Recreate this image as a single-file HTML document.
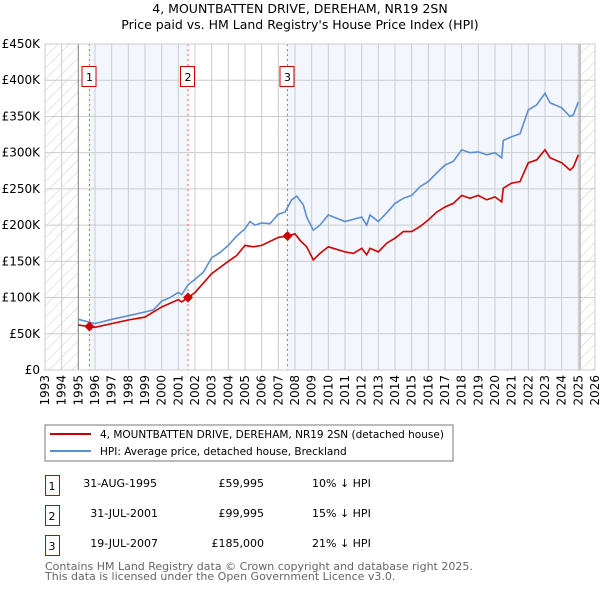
<!DOCTYPE html>
<html><head><meta charset="utf-8"><style>
body{margin:0;background:#fff;font-family:"DejaVu Sans","Liberation Sans",sans-serif;}
svg text{font-family:"DejaVu Sans","Liberation Sans",sans-serif;}
</style></head><body>
<svg id="c" width="600" height="590" xmlns="http://www.w3.org/2000/svg">
<defs><pattern id="h" width="8" height="8" patternUnits="userSpaceOnUse" patternTransform="rotate(45)"><line x1="0" y1="0" x2="0" y2="8" stroke="#ccc" stroke-width="1"/></pattern></defs>
<text x="300" y="13" text-anchor="middle" font-size="12.5">4, MOUNTBATTEN DRIVE, DEREHAM, NR19 2SN</text>
<text x="300" y="29" text-anchor="middle" font-size="12.5">Price paid vs. HM Land Registry's House Price Index (HPI)</text>
<g id="plot"></g>
<rect x="45" y="425" width="408" height="36" fill="#fff" stroke="#777"/>
<line x1="50" y1="434" x2="91" y2="434" stroke="#cc0000" stroke-width="2"/>
<text x="100" y="438" font-size="10.5">4, MOUNTBATTEN DRIVE, DEREHAM, NR19 2SN (detached house)</text>
<line x1="50" y1="451" x2="91" y2="451" stroke="#5b8fd0" stroke-width="2"/>
<text x="100" y="455" font-size="10.5">HPI: Average price, detached house, Breckland</text>
<g font-size="11">
<rect x="45.5" y="475.5" width="14" height="20" fill="#fff" stroke="#c00"/><text x="52" y="490" text-anchor="middle">1</text>
<text x="157" y="487" text-anchor="end">31-AUG-1995</text><text x="264" y="487" text-anchor="end">£59,995</text><text x="312" y="487">10% ↓ HPI</text>
<rect x="45.5" y="505.5" width="14" height="20" fill="#fff" stroke="#c00"/><text x="52" y="520" text-anchor="middle">2</text>
<text x="158" y="517" text-anchor="end">31-JUL-2001</text><text x="264" y="517" text-anchor="end">£99,995</text><text x="312" y="517">15% ↓ HPI</text>
<rect x="45.5" y="535.5" width="14" height="20" fill="#fff" stroke="#c00"/><text x="52" y="550" text-anchor="middle">3</text>
<text x="158" y="547" text-anchor="end">19-JUL-2007</text><text x="264" y="547" text-anchor="end">£185,000</text><text x="312" y="547">21% ↓ HPI</text>
</g>
<text x="45" y="570" font-size="11" fill="#666">Contains HM Land Registry data © Crown copyright and database right 2025.</text>
<text x="45" y="580" font-size="11" fill="#666">This data is licensed under the Open Government Licence v3.0.</text>
</svg>
<script>
const hpiYears=[1995.0,1995.5,1996,1996.5,1997,1998,1999,1999.5,2000,2000.5,2001,2001.2,2001.6,2002,2002.5,2003,2003.5,2004,2004.5,2005,2005.3,2005.6,2006,2006.5,2007,2007.4,2007.8,2008.1,2008.5,2008.7,2009.1,2009.5,2010,2011,2012,2012.3,2012.5,2013,2013.5,2014,2014.5,2015,2015.5,2016,2016.5,2017,2017.5,2018,2018.5,2019,2019.5,2020,2020.4,2020.5,2021,2021.5,2022,2022.5,2023,2023.3,2024,2024.5,2024.7,2025];
const hpiValues=[70,67,64,67,70,75,80,83,95,100,107,104,118,125,135,155,162,172,185,195,205,200,203,202,215,218,235,240,228,211,193,200,214,205,211,200,214,205,217,230,237,241,253,260,272,283,288,304,300,301,297,300,293,317,322,326,359,366,382,369,362,350,352,370];
const ppYears=[1995.0,1995.67,1996,1997,1998,1999,2000,2001,2001.2,2001.58,2002,2003,2004,2004.5,2005,2005.5,2006,2007,2007.55,2008,2008.3,2008.7,2009.1,2009.5,2010,2011,2011.5,2012,2012.3,2012.5,2013,2013.5,2014,2014.5,2015,2015.5,2016,2016.5,2017,2017.5,2018,2018.5,2019,2019.5,2020,2020.4,2020.5,2021,2021.5,2022,2022.5,2023,2023.3,2024,2024.5,2024.7,2025];
const ppValues=[62,60,59,64,69,73,87,97,94,100,107,133,150,158,172,170,172,183,185,188,179,170,152,161,170,163,161,168,159,168,163,175,182,191,191,198,207,218,225,230,241,237,241,235,239,232,251,258,260,286,290,304,293,286,276,280,297];
const saleYears=[1995.67,2001.58,2007.55];
const saleValues=[59.995,99.995,185];
const saleLabels=["1","2","3"];
const yTicks=[0,50,100,150,200,250,300,350,400,450];
const yTickLabels=["£0","£50K","£100K","£150K","£200K","£250K","£300K","£350K","£400K","£450K"];
const xTicks=[1993,1994,1995,1996,1997,1998,1999,2000,2001,2002,2003,2004,2005,2006,2007,2008,2009,2010,2011,2012,2013,2014,2015,2016,2017,2018,2019,2020,2021,2022,2023,2024,2025,2026];
const X0=45,X1=595,Y0=370,Y1=44;
const xs=y=>X0+(y-1993)/(2026-1993)*(X1-X0);
const ys=v=>Y0-v/450*(Y0-Y1);
const NS="http://www.w3.org/2000/svg";
const g=document.getElementById('plot');
function mk(t,a){const e=document.createElementNS(NS,t);for(const k in a)e.setAttribute(k,a[k]);g.appendChild(e);return e;}
let e;
e=mk('rect',{x:X0,y:Y1,width:X1-X0,height:Y0-Y1,fill:'#fff'});


e=mk('rect',{x:xs(saleYears[0]),y:Y1,width:xs(saleYears[1])-xs(saleYears[0]),height:Y0-Y1,fill:'#f3f6fd'});


e=mk('rect',{x:xs(saleYears[2]),y:Y1,width:xs(2025)-xs(saleYears[2]),height:Y0-Y1,fill:'#f3f6fd'});


e=mk('rect',{x:X0,y:Y1,width:xs(1995)-X0,height:Y0-Y1,fill:'url(#h)'});


e=mk('rect',{x:xs(2025.1),y:Y1,width:X1-xs(2025.1),height:Y0-Y1,fill:'url(#h)'});


xTicks.forEach(t=>{
 e=mk('line',{x1:xs(t),x2:xs(t),y1:Y1,y2:Y0,stroke:'#ccc','stroke-width':1});
 
 
 e=mk('text',{x:0,y:0,'font-size':12,'text-anchor':'end',transform:`translate(${xs(t)+4},${Y0+5}) rotate(-90)`});
 e.textContent=t;
 
 
});
yTicks.forEach((t,i)=>{
 e=mk('line',{x1:X0,x2:X1,y1:ys(t),y2:ys(t),stroke:'#ccc','stroke-width':1});
 
 
 e=mk('text',{x:40,y:ys(t)+4,'font-size':12,'text-anchor':'end'});
 e.textContent=yTickLabels[i];
 
 
});
e=mk('line',{x1:xs(1995),x2:xs(1995),y1:Y1,y2:Y0,stroke:'#888'});


e=mk('line',{x1:xs(2025.1),x2:xs(2025.1),y1:Y1,y2:Y0,stroke:'#888'});


saleYears.forEach((s,i)=>{
 e=mk('line',{x1:xs(s),x2:xs(s),y1:Y1,y2:Y0,stroke:'#f55','stroke-dasharray':'2,3'});
 
 
 e=mk('rect',{x:xs(s)-7.5,y:66.5,width:14,height:20,fill:'#fff',stroke:'#c00'});
 
 
 e=mk('text',{x:xs(s),y:81,'font-size':11,'text-anchor':'middle'});
 e.textContent=saleLabels[i];
 
 
});
const path=(xa,va)=>xa.map((x,i)=>(i?'L':'M')+xs(x).toFixed(1)+','+ys(va[i]).toFixed(1)).join('');
e=mk('path',{d:path(hpiYears,hpiValues),fill:'none',stroke:'#5b8fd0','stroke-width':1.6});


e=mk('path',{d:path(ppYears,ppValues),fill:'none',stroke:'#cc0000','stroke-width':1.6});


saleYears.forEach((s,i)=>{
 const cx=xs(s),cy=ys(saleValues[i]);
 e=mk('path',{d:`M${cx-5},${cy}L${cx},${cy-5}L${cx+5},${cy}L${cx},${cy+5}Z`,fill:'#cc0000'});
 
 
});
e=mk('rect',{x:X0,y:Y1,width:X1-X0,height:Y0-Y1,fill:'none',stroke:'#ccc'});


</script>
</body></html>
